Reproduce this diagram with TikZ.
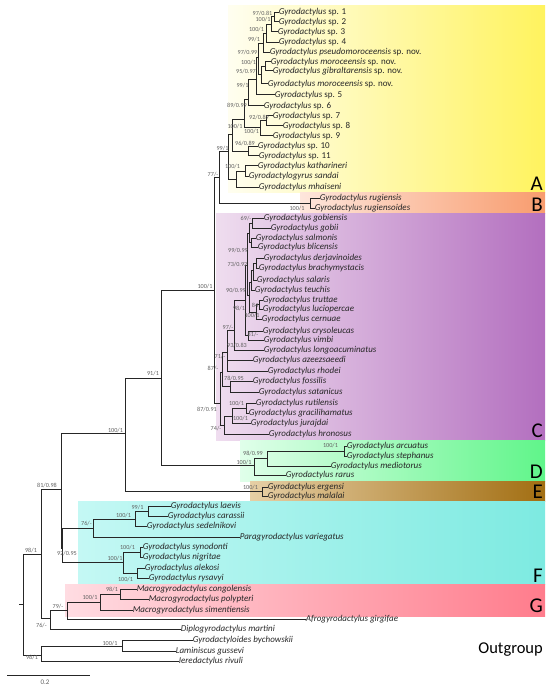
\documentclass[tikz,border=0pt]{standalone}
\usepackage{fontspec}
\setmainfont{Carlito}
\definecolor{Ya}{HTML}{FFFEF0}\definecolor{Yb}{HTML}{FFF35E}
\definecolor{Ba}{HTML}{FEE6DC}\definecolor{Bb}{HTML}{F89C6E}
\definecolor{Ca}{HTML}{EFDDEF}\definecolor{Cb}{HTML}{B36FBF}
\definecolor{Da}{HTML}{E0FFEA}\definecolor{Db}{HTML}{60F58A}
\definecolor{Ea}{HTML}{E6CFA5}\definecolor{Eb}{HTML}{A26E12}
\definecolor{Fa}{HTML}{C4F8F4}\definecolor{Fb}{HTML}{7DEAE1}
\definecolor{Ga}{HTML}{FFDCE2}\definecolor{Gb}{HTML}{FF7C8C}
\begin{document}
\begin{tikzpicture}[x=1pt,y=-1pt,
 br/.style={draw=black!85,line width=1pt,line cap=rect},
 leaf/.style={anchor=west,inner sep=0.6pt,font=\fontsize{9}{9}\selectfont,text=black!85},
 sup/.style={inner sep=0pt,font=\fontsize{6.2}{6.2}\selectfont,text=black!62},
 clade/.style={anchor=base east,inner sep=0pt,font=\fontsize{21}{21}\selectfont},
 band/.style={draw=none}]
\useasboundingbox (0,0) rectangle (550,687);
% colour bands
\shade[band,left color=Ya,right color=Yb] (228,6) rectangle (545,192);
\shade[band,left color=Ba,right color=Bb] (300,192) rectangle (545,213);
\shade[band,left color=Ca,right color=Cb] (216,213) rectangle (545,440);
\shade[band,left color=Da,right color=Db] (240,440) rectangle (545,481);
\shade[band,left color=Ea,right color=Eb] (250,481) rectangle (545,501);
\shade[band,left color=Fa,right color=Fb] (78,501) rectangle (545,584);
\shade[band,left color=Ga,right color=Gb] (65,584) rectangle (545,616);
% clade letters
\node[clade] (cA) at (543,190) {A};
\node[clade] (cB) at (543,211) {B};
\node[clade] (cC) at (543,437) {C};
\node[clade] (cD) at (543,478) {D};
\node[clade] (cE) at (543,498) {E};
\node[clade] (cF) at (543,582) {F};
\node[clade] (cG) at (543,612) {G};
\node[anchor=base east,inner sep=0pt,font=\fontsize{16.5}{17}\selectfont] (cO) at (543,653) {Outgroup};
% leaves
\node[leaf] (L1) at (278,12.5) {\textit{Gyrodactylus} sp. 1};
\node[leaf] (L2) at (278,22) {\textit{Gyrodactylus} sp. 2};
\node[leaf] (L3) at (277,32) {\textit{Gyrodactylus} sp. 3};
\node[leaf] (L4) at (278,42.5) {\textit{Gyrodactylus} sp. 4};
\node[leaf] (L5) at (269,52.5) {\textit{Gyrodactylus pseudomoroceensis} sp. nov.};
\node[leaf] (L6) at (270,62) {\textit{Gyrodactylus moroceensis} sp. nov.};
\node[leaf] (L7) at (272,71) {\textit{Gyrodactylus gibraltarensis} sp. nov.};
\node[leaf] (L8) at (267,84) {\textit{Gyrodactylus moroceensis} sp. nov.};
\node[leaf] (L9) at (274,95) {\textit{Gyrodactylus} sp. 5};
\node[leaf] (L10) at (263,106) {\textit{Gyrodactylus} sp. 6};
\node[leaf] (L11) at (272,116) {\textit{Gyrodactylus} sp. 7};
\node[leaf] (L12) at (282,126) {\textit{Gyrodactylus} sp. 8};
\node[leaf] (L13) at (272,136) {\textit{Gyrodactylus} sp. 9};
\node[leaf] (L14) at (257,146.5) {\textit{Gyrodactylus} sp. 10};
\node[leaf] (L15) at (258,156) {\textit{Gyrodactylus} sp. 11};
\node[leaf] (L16) at (257,166) {\textit{Gyrodactylus katharineri}};
\node[leaf] (L17) at (248,176) {\textit{Gyrodactylogyrus sandai}};
\node[leaf] (L18) at (258,187) {\textit{Gyrodactylus mhaiseni}};
\node[leaf] (L19) at (319,198) {\textit{Gyrodactylus rugiensis}};
\node[leaf] (L20) at (314,208) {\textit{Gyrodactylus rugiensoides}};
\node[leaf] (L21) at (263,218) {\textit{Gyrodactylus gobiensis}};
\node[leaf] (L22) at (270,228) {\textit{Gyrodactylus gobii}};
\node[leaf] (L23) at (255,238) {\textit{Gyrodactylus salmonis}};
\node[leaf] (L24) at (257,247) {\textit{Gyrodactylus blicensis}};
\node[leaf] (L25) at (263,258) {\textit{Gyrodactylus derjavinoides}};
\node[leaf] (L26) at (258,268) {\textit{Gyrodactylus brachymystacis}};
\node[leaf] (L27) at (256,280) {\textit{Gyrodactylus salaris}};
\node[leaf] (L28) at (254,290) {\textit{Gyrodactylus teuchis}};
\node[leaf] (L29) at (262,300) {\textit{Gyrodactylus truttae}};
\node[leaf] (L30) at (262,309) {\textit{Gyrodactylus luciopercae}};
\node[leaf] (L31) at (261,319) {\textit{Gyrodactylus cernuae}};
\node[leaf] (L32) at (262,331) {\textit{Gyrodactylus crysoleucas}};
\node[leaf] (L33) at (263,340) {\textit{Gyrodactylus vimbi}};
\node[leaf] (L34) at (263,350) {\textit{Gyrodactylus longoacuminatus}};
\node[leaf] (L35) at (252,360) {\textit{Gyrodactylus azeezsaeedi}};
\node[leaf] (L36) at (267,371) {\textit{Gyrodactylus rhodei}};
\node[leaf] (L37) at (252,381) {\textit{Gyrodactylus fossilis}};
\node[leaf] (L38) at (258,392) {\textit{Gyrodactylus satanicus}};
\node[leaf] (L39) at (255,403) {\textit{Gyrodactylus rutilensis}};
\node[leaf] (L40) at (248,413) {\textit{Gyrodactylus gracilihamatus}};
\node[leaf] (L41) at (250,423) {\textit{Gyrodactylus jurajdai}};
\node[leaf] (L42) at (268,434) {\textit{Gyrodactylus hronosus}};
\node[leaf] (L43) at (346,446) {\textit{Gyrodactylus arcuatus}};
\node[leaf] (L44) at (346,456) {\textit{Gyrodactylus stephanus}};
\node[leaf] (L45) at (330,466) {\textit{Gyrodactylus mediotorus}};
\node[leaf] (L46) at (285,475) {\textit{Gyrodactylus rarus}};
\node[leaf] (L47) at (267,487) {\textit{Gyrodactylus ergensi}};
\node[leaf] (L48) at (267,496) {\textit{Gyrodactylus malalai}};
\node[leaf] (L49) at (170,506) {\textit{Gyrodactylus laevis}};
\node[leaf] (L50) at (167,516) {\textit{Gyrodactylus carassii}};
\node[leaf] (L51) at (146,526) {\textit{Gyrodactylus sedelnikovi}};
\node[leaf] (L52) at (239,537) {\textit{Paragyrodactylus variegatus}};
\node[leaf] (L53) at (142,547) {\textit{Gyrodactylus synodonti}};
\node[leaf] (L54) at (142,557) {\textit{Gyrodactylus nigritae}};
\node[leaf] (L55) at (144,568) {\textit{Gyrodactylus alekosi}};
\node[leaf] (L56) at (148,578) {\textit{Gyrodactylus rysavyi}};
\node[leaf] (L57) at (136,589) {\textit{Macrogyrodactylus congolensis}};
\node[leaf] (L58) at (148,599) {\textit{Macrogyrodactylus polypteri}};
\node[leaf] (L59) at (132,610) {\textit{Macrogyrodactylus simentiensis}};
\node[leaf] (L60) at (305,619) {\textit{Afrogyrodactylus girgifae}};
\node[leaf] (L61) at (180,629) {\textit{Diplogyrodactylus martini}};
\node[leaf] (L62) at (192,640.5) {\textit{Gyrodactyloides bychowskii}};
\node[leaf] (L63) at (175,651) {\textit{Laminiscus gussevi}};
\node[leaf] (L64) at (178,661) {\textit{Ieredactylus rivuli}};
% internal nodes
\coordinate (a1) at (274,17);
\coordinate (a2) at (271,25);
\coordinate (a3) at (266,34);
\coordinate (a4) at (263,44);
\coordinate (b1) at (265,66.5);
\coordinate (b2) at (261,75);
\coordinate (b3) at (258,58);
\coordinate (b4) at (256,80);
\coordinate (b5) at (248,100);
\coordinate (c1) at (266,121);
\coordinate (c2) at (260,128);
\coordinate (c3) at (244,120);
\coordinate (d1) at (248,151.5);
\coordinate (aX) at (232,135);
\coordinate (e1) at (245,171);
\coordinate (e2) at (236,179);
\coordinate (nA) at (228,152);
\coordinate (nB) at (310,203);
\coordinate (nAB) at (219,177);
\coordinate (g1) at (252,223);
\coordinate (g2) at (251,242.5);
\coordinate (n1) at (249,233);
\coordinate (g4) at (256,263);
\coordinate (n2) at (253,270);
\coordinate (n3) at (251,282);
\coordinate (h1) at (259,304.5);
\coordinate (h2) at (256,312);
\coordinate (n3b) at (249,295);
\coordinate (n4) at (247,265);
\coordinate (i1) at (248,335.5);
\coordinate (n5) at (245,300);
\coordinate (n6) at (234,330);
\coordinate (q) at (227,352);
\coordinate (r) at (230,386);
\coordinate (p) at (222,372);
\coordinate (ra) at (246,408);
\coordinate (rb) at (232,416);
\coordinate (rc) at (224,425);
\coordinate (nC) at (220,403);
\coordinate (nABC) at (214,290);
\coordinate (D1) at (344,451);
\coordinate (D2) at (267,458);
\coordinate (D3) at (254,465);
\coordinate (n91) at (161,378);
\coordinate (E1) at (262,491.5);
\coordinate (x100) at (125,433);
\coordinate (f1) at (148,511);
\coordinate (f2) at (135,519);
\coordinate (f3) at (93,528);
\coordinate (f4) at (140,552);
\coordinate (f5) at (137,573);
\coordinate (f6) at (123,562);
\coordinate (fr) at (62,548);
\coordinate (n81) at (61,489);
\coordinate (gg1) at (120,594);
\coordinate (gg2) at (100,602);
\coordinate (g79) at (67,610);
\coordinate (o76) at (50,618);
\coordinate (u98) at (41,554);
\coordinate (ob) at (122,646);
\coordinate (l98) at (41,655);
\coordinate (root) at (23,604);
\coordinate (rs) at (19,604);
% branches to leaves
\foreach \p/\c in {a1/L1,a1/L2,a2/L3,a3/L4,a4/L5,b1/L6,b1/L7,b2/L8,b4/L9,b5/L10,
  c1/L11,c1/L12,c2/L13,d1/L14,d1/L15,e1/L16,e1/L17,e2/L18,nB/L19,nB/L20,
  g1/L21,g1/L22,g2/L23,g2/L24,g4/L25,g4/L26,n2/L27,n3/L28,h1/L29,h1/L30,h2/L31,
  i1/L32,i1/L33,n6/L34,q/L35,q/L36,r/L37,r/L38,ra/L39,ra/L40,rb/L41,rc/L42,
  D1/L43,D1/L44,D2/L45,D3/L46,E1/L47,E1/L48,f1/L49,f1/L50,f2/L51,f3/L52,
  f4/L53,f4/L54,f5/L55,f5/L56,gg1/L57,gg1/L58,gg2/L59,g79/L60,o76/L61,
  ob/L62,ob/L63,l98/L64}
  \draw[br] (\p) |- (\c.west);
% branches between internal nodes
\foreach \p/\c in {a2/a1,a3/a2,a4/a3,b2/b1,b3/a4,b3/b2,b4/b3,b5/b4,c2/c1,c3/b5,c3/c2,
  aX/c3,aX/d1,e2/e1,nA/aX,nA/e2,nAB/nA,nAB/nB,n1/g1,n1/g2,n2/g4,n3/n2,h2/h1,
  n3b/n3,n3b/h2,n4/n1,n4/n3b,n5/n4,n5/i1,n6/n5,q/n6,p/q,p/r,rb/ra,rc/rb,nC/p,nC/rc,
  nABC/nAB,nABC/nC,D2/D1,D3/D2,n91/nABC,n91/D3,x100/n91,x100/E1,f2/f1,f3/f2,
  f6/f4,f6/f5,fr/f3,fr/f6,n81/x100,n81/fr,gg2/gg1,g79/gg2,o76/g79,u98/n81,u98/o76,
  l98/ob,root/u98,root/l98}
  \draw[br] (\p) |- (\c);
\draw[br] (rs) -- (root);
% support values
\node[sup] (s1) at (262.5,13) {97/0.81};
\node[sup] (s2) at (263,19) {100/1};
\node[sup] (s3) at (256.5,29) {100/1};
\node[sup] (s4) at (254,39) {99/1};
\node[sup] (s5) at (247.5,52) {97/0.99};
\node[sup] (s6) at (248.5,62) {100/1};
\node[sup] (s7) at (246,71) {95/0.97};
\node[sup] (s8) at (242.5,85) {99/1};
\node[sup] (s9) at (237,105) {89/0.99};
\node[sup] (s10) at (259,117) {92/0.89};
\node[sup] (s11) at (251.5,131) {100/1};
\node[sup] (s12) at (235,126) {100/1};
\node[sup] (s13) at (245,143) {96/0.89};
\node[sup] (s14) at (222.5,148) {99/1};
\node[sup] (s15) at (232.5,166) {100/1};
\node[sup] (s16) at (213,174) {77/-};
\node[sup] (s17) at (297,208) {100/1};
\node[sup] (s18) at (205,286) {100/1};
\node[sup] (s19) at (246,218) {69/-};
\node[sup] (s20) at (238,250) {99/0.99};
\node[sup] (s21) at (237.5,264) {73/0.92};
\node[sup] (s22) at (236,290) {90/0.99};
\node[sup] (s23) at (255,305) {84};
\node[sup] (s24) at (252,315.5) {100/1};
\node[sup] (s25) at (239,308) {98/1};
\node[sup] (s26) at (253,334) {81/-};
\node[sup] (s27) at (228,327) {97/-};
\node[sup] (s28) at (237,345) {93/0.83};
\node[sup] (s29) at (220,356) {71/-};
\node[sup] (s30) at (213,368) {87/-};
\node[sup] (s31) at (234,378) {78/0.95};
\node[sup] (s32) at (207,409) {87/0.91};
\node[sup] (s33) at (236.5,403) {100/1};
\node[sup] (s34) at (240.5,418) {100/1};
\node[sup] (s35) at (216,428) {74/-};
\node[sup] (s36) at (153,373) {91/1};
\node[sup] (s37) at (330.5,445) {100/1};
\node[sup] (s38) at (253,453) {98/0.99};
\node[sup] (s39) at (244,462) {100/1};
\node[sup] (s40) at (250.5,487) {100/1};
\node[sup] (s41) at (115.5,430) {100/1};
\node[sup] (s42) at (47,485) {81/0.98};
\node[sup] (s43) at (137.5,507) {99/1};
\node[sup] (s44) at (123.5,515) {100/1};
\node[sup] (s45) at (86.5,523) {76/-};
\node[sup] (s46) at (127.5,547) {100/1};
\node[sup] (s47) at (115,558) {100/1};
\node[sup] (s48) at (125.5,579) {100/1};
\node[sup] (s49) at (67,553) {92/0.95};
\node[sup] (s50) at (31,550) {98/1};
\node[sup] (s51) at (112,589) {98/1};
\node[sup] (s52) at (90,597) {100/1};
\node[sup] (s53) at (58,606) {79/-};
\node[sup] (s54) at (41.5,625) {76/-};
\node[sup] (s55) at (110,643) {100/1};
\node[sup] (s56) at (32,657) {98/1};
% scale bar
\coordinate (sb1) at (7,675);
\coordinate (sb2) at (89,675);
\draw[br] (sb1) -- (sb2);
\node[sup,font=\fontsize{7}{7}\selectfont] (sbl) at (45,682) {0.2};
\end{tikzpicture}
\end{document}
